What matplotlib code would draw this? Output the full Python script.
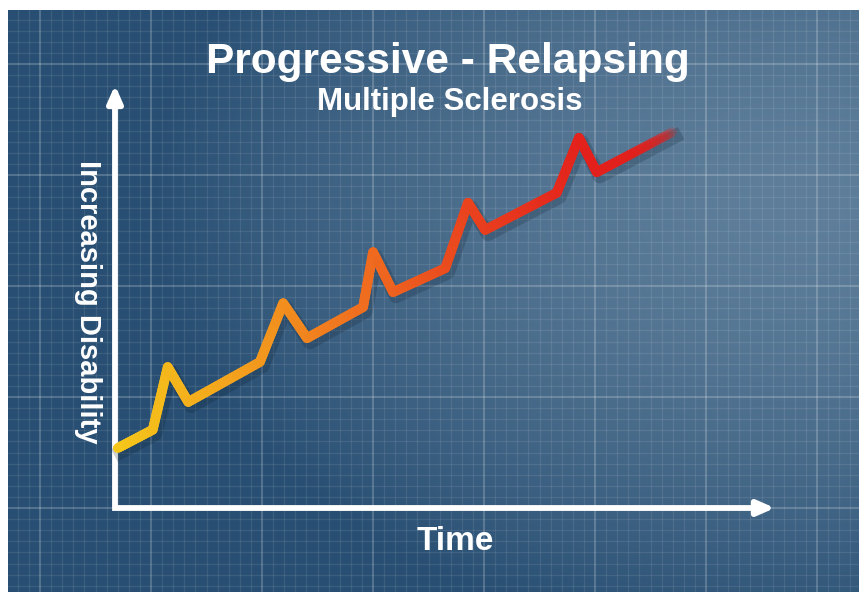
import numpy as np
import matplotlib
matplotlib.use("Agg")
import matplotlib.pyplot as plt
import matplotlib.transforms as mtransforms
from matplotlib.collections import LineCollection
from matplotlib.colors import LinearSegmentedColormap, to_rgb

# data (time vs disability)
time = [0.05, 0.68, 0.95, 1.32, 2.61, 3.03, 3.46, 4.47, 4.65, 5.01,
        5.95, 6.36, 6.67, 7.96, 8.36, 8.68, 10.04]
disability = [1.08, 1.41, 2.54, 1.91, 2.63, 3.69, 3.06, 3.62, 4.61, 3.89,
              4.32, 5.50, 5.01, 5.68, 6.67, 6.05, 6.77]

title = "Progressive - Relapsing"
subtitle = "Multiple Sclerosis"
xlabel = "Time"
ylabel = "Increasing Disability"

plt.rcParams['font.family'] = ['Liberation Sans', 'DejaVu Sans']

W, H = 859, 592
fig = plt.figure(figsize=(W / 100, H / 100), dpi=100, facecolor="white")
# white margin on the left and top
ax = fig.add_axes([8 / W, 0, 1 - 8 / W, 1 - 10 / H])
k = 55.5  # pixels per unit
x0, y0 = 115, 508  # origin in pixels
xmin, xmax = (8 - x0) / k, (W - x0) / k
ymin, ymax = (y0 - H) / k, (y0 - 10) / k

# grid (ticks first, limits afterwards so they are not widened)
ax.set_xticks(np.arange(-1.35, xmax, 2.0))
ax.set_xticks(np.arange(-1.35 - 2.0, xmax, 0.2), minor=True)
ax.set_yticks(np.arange(-2.0, ymax, 2.0))
ax.set_yticks(np.arange(-2.0, ymax, 0.2), minor=True)
ax.set_axisbelow(True)
ax.grid(which="major", color="white", alpha=0.2, lw=1.5)
ax.grid(which="minor", color="white", alpha=0.09, lw=0.9)
ax.tick_params(which="both", length=0, labelbottom=False, labelleft=False)
for s in ax.spines.values():
    s.set_visible(False)

# blueprint background, lighter toward the upper right
gx, gy = np.meshgrid(np.linspace(xmin, xmax, 400), np.linspace(ymax, ymin, 300))
px, py = x0 + gx * k, y0 - gy * k
d = np.sqrt(((px - 800) / 650) ** 2 + ((py - 200) / 450) ** 2)
t = np.clip(d, 0, 1) ** 1.6
light = np.array(to_rgb("#5e7e9a"))
dark = np.array(to_rgb("#284f73"))
bg = light[None, None, :] * (1 - t[..., None]) + dark[None, None, :] * t[..., None]
ax.imshow(bg, extent=(xmin, xmax, ymin, ymax), aspect="auto", zorder=0)

ax.set_xlim(xmin, xmax)
ax.set_ylim(ymin, ymax)

# axes: L shape plus arrow heads
ax.plot([0, 0, 11.6], [7.4, 0, 0], color="white", lw=4.2,
        solid_joinstyle="miter", solid_capstyle="butt", zorder=3)
arrow = dict(arrowstyle="-|>,head_length=0.5,head_width=0.22", color="white",
             lw=4.2, shrinkA=0, shrinkB=0, mutation_scale=20)
ax.annotate("", xy=(0, 7.62), xytext=(0, 7.2), arrowprops=arrow, zorder=3)
ax.annotate("", xy=(11.89, 0), xytext=(11.5, 0), arrowprops=arrow, zorder=3)

# shadow under the line
shadow = mtransforms.offset_copy(ax.transData, fig=fig, x=2, y=-3, units="points")
ax.plot(time, disability, color="#0c1a2a", alpha=0.2, lw=10,
        solid_joinstyle="round", transform=shadow, zorder=3)

# gradient line yellow -> red, fading out at the end
cmap = LinearSegmentedColormap.from_list(
    "heat", ["#f5c81a", "#f3a31d", "#f0721f", "#e9421e", "#e3201c"])
pts = []
for i in range(len(time) - 1):
    s = np.linspace(0, 1, 25, endpoint=False)
    xs = time[i] + (time[i + 1] - time[i]) * s
    ys = disability[i] + (disability[i + 1] - disability[i]) * s
    pts += list(zip(xs, ys))
pts.append((time[-1], disability[-1]))
pts = np.array(pts)
segs = np.stack([pts[:-1], pts[1:]], axis=1)
mx = segs[:, :, 0].mean(axis=1)
cols = cmap(np.clip(mx / 8.6, 0, 1))
cols[:, 3] = np.clip(1 - (mx - 8.9) / 1.4, 0.15, 1)
lc = LineCollection(segs, colors=cols, linewidths=7, capstyle="round",
                    joinstyle="round", zorder=4)
ax.add_collection(lc)

# texts
ax.text(6.0, 7.84, title, color="white", fontsize=30.5, fontweight="bold",
        ha="center", va="baseline", zorder=5)
ax.text(6.04, 7.17, subtitle, color="white", fontsize=22.5, fontweight="bold",
        ha="center", va="baseline", zorder=5)
ax.text(6.14, -0.76, xlabel, color="white", fontsize=24, fontweight="bold",
        ha="center", va="baseline", zorder=5)
ax.text(-0.49, 3.71, ylabel, color="white", fontsize=21, fontweight="bold",
        rotation=270, ha="center", va="center", zorder=5)

fig.savefig("out.png", dpi=100, facecolor="white")
